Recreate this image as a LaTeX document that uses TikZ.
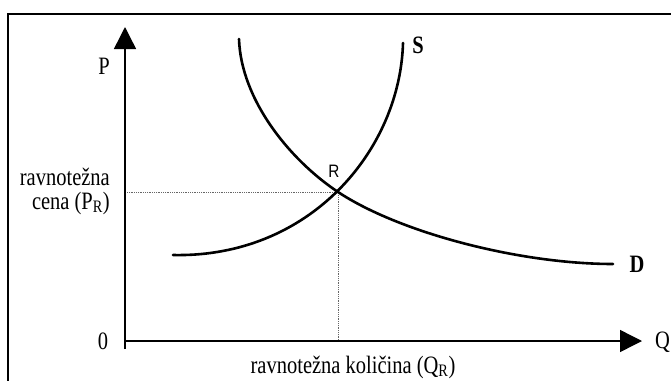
\documentclass[tikz,border=0pt]{standalone}
\usepackage{fontspec}
\setmainfont[FakeStretch=0.82]{Liberation Serif}
\newfontfamily\rfont[FakeStretch=0.85]{Liberation Sans}
\usetikzlibrary{arrows.meta}
\begin{document}
\begin{tikzpicture}[x=1pt,y=-1pt,
  lbl/.style={font=\fontsize{25}{25}\selectfont, inner sep=0pt},
  curvestyle/.style={line width=2.6pt, line cap=round},
  axisstyle/.style={line width=1.4pt, -{Triangle[length=22pt,width=22pt]}},
  guide/.style={densely dotted, line width=0.8pt, black!60}]
\useasboundingbox (0,0) rectangle (671,380);
% frame
\draw[line width=2.4pt] (8,382) -- (8,14) -- (673,14);
% axes
\coordinate (ybot) at (125,349);
\coordinate (ytop) at (125,27);
\coordinate (xleft) at (125,341);
\coordinate (xright) at (642,341);
\draw[axisstyle] (ybot) -- (ytop);
\draw[axisstyle] (xleft) -- (xright);
% equilibrium guides
\coordinate (R) at (338,192);
\coordinate (Ry) at (127,192);
\coordinate (Rx) at (338,340);
\draw[guide] (Ry) -- (R) -- (Rx);
% supply
\coordinate (s0) at (173,255);
\coordinate (s1) at (403,43);
\draw[curvestyle] (s0) .. controls (310,258) and (400,150) .. (s1);
% demand
\coordinate (d0) at (239,39);
\coordinate (d1) at (613,264);
\draw[curvestyle] (d0) .. controls (241,100) and (290,160) .. (R)
                       .. controls (400,233) and (520,264) .. (d1);
% labels
\node[lbl] (plabel) at (104,66) {P};
\node[lbl] (zero) at (103,341) {0};
\node[lbl, anchor=west] (qlabel) at (655,342) {Q};
\node[lbl, anchor=base east] (prlabelA) at (110,185) {ravnotežna};
\node[lbl, anchor=base east] (prlabelB) at (110,209) {cena (P\textsubscript{R})};
\node[lbl] (qrlabel) at (353,367) {ravnotežna količina (Q\textsubscript{R})};
\node[font=\rfont\fontsize{18}{18}\selectfont, inner sep=0pt] (rlabel) at (334,171) {R};
\node[font=\bfseries\fontsize{25}{25}\selectfont, inner sep=0pt] (slabel) at (418,45) {S};
\node[font=\bfseries\fontsize{25}{25}\selectfont, inner sep=0pt] (dlabel) at (637,264) {D};
\end{tikzpicture}
\end{document}
